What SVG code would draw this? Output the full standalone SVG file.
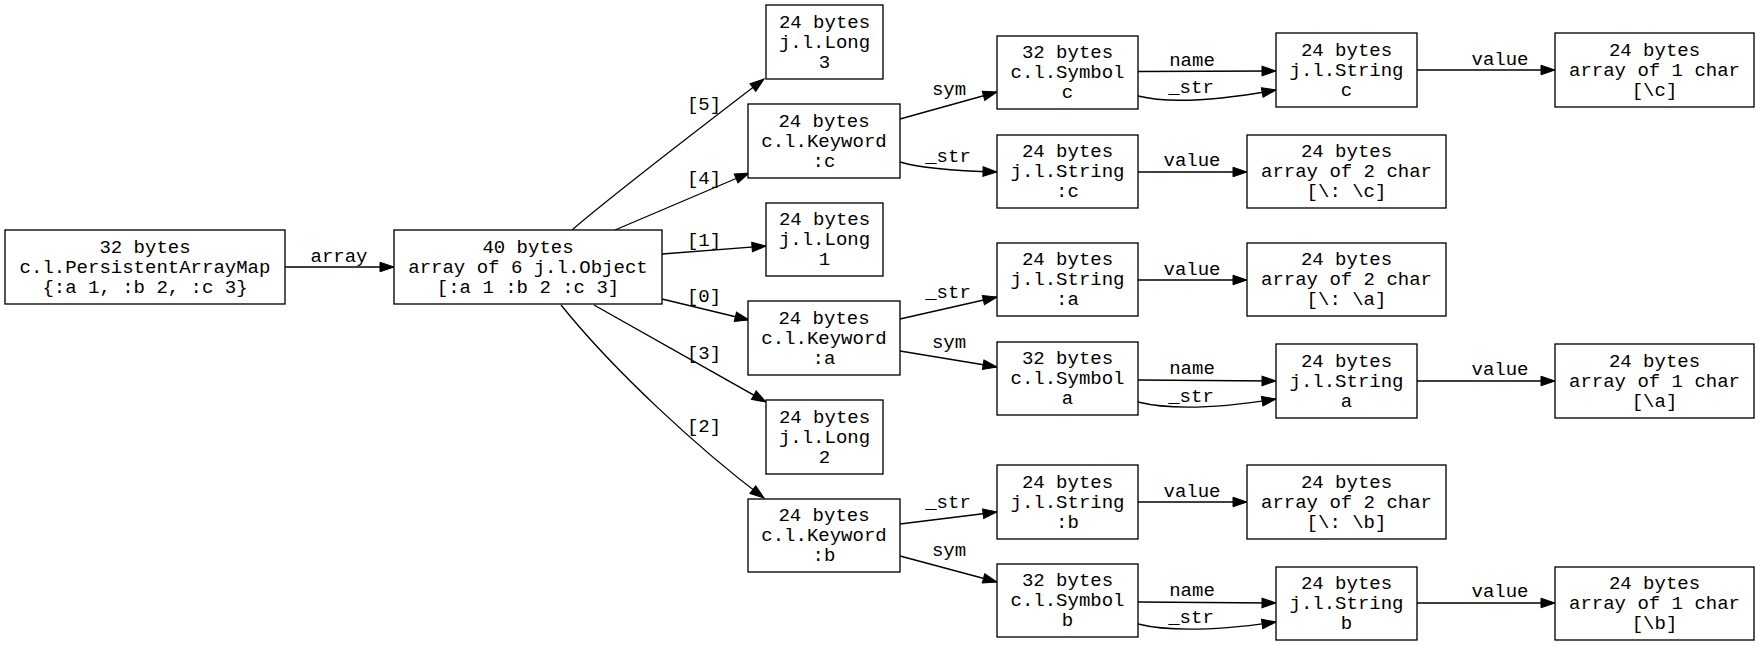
<svg xmlns="http://www.w3.org/2000/svg" width="1760" height="646" viewBox="0 0 1760 646">
<style>
text{font-family:"Liberation Mono","DejaVu Sans Mono",monospace;font-size:19px;text-anchor:middle;fill:#000}
.n rect{fill:#fff;stroke:#000;stroke-width:1.33}
#edges path{fill:none;stroke:#000;stroke-width:1.33;marker-end:url(#ah)}
</style>
<defs>
<marker id="ah" markerUnits="userSpaceOnUse" markerWidth="15" markerHeight="10" refX="14" refY="4.8" orient="auto" overflow="visible">
<path d="M0,0 L14,4.8 L0,9.6 z" fill="#000" stroke="#000" stroke-width="1"/>
</marker>
</defs>
<rect width="1760" height="646" fill="#fff"/>
<g id="edges">
<path d="M285,267 L394,267"/>
<path d="M572,230 C610,197 700,128 764,79"/>
<path d="M615,230 L749,173"/>
<path d="M662,254 L766,246"/>
<path d="M662,299 L749,320"/>
<path d="M594,305 L766,402"/>
<path d="M561,305 C615,372 700,450 764,498"/>
<path d="M900,119 L997,92"/>
<path d="M900,162 C920,168 960,171 997,172"/>
<path d="M900,319 L997,297"/>
<path d="M900,351 L997,367"/>
<path d="M900,524 L997,512"/>
<path d="M900,556 L997,582"/>
<path d="M1138,71.5 L1276,71"/>
<path d="M1138,96 C1170,104 1220,100 1276,90"/>
<path d="M1417,70 L1555,70"/>
<path d="M1138,172 L1247,172"/>
<path d="M1138,280 L1247,280"/>
<path d="M1138,380 L1276,381"/>
<path d="M1138,402 C1170,410 1220,408 1276,399"/>
<path d="M1417,381 L1555,381"/>
<path d="M1138,502 L1247,502"/>
<path d="M1138,602 L1276,603"/>
<path d="M1138,624 C1170,632 1220,630 1276,622"/>
<path d="M1417,603 L1555,603"/>
<text x="339" y="262">array</text>
<text x="704" y="110">[5]</text>
<text x="704" y="184">[4]</text>
<text x="704" y="246">[1]</text>
<text x="704" y="302">[0]</text>
<text x="704" y="359">[3]</text>
<text x="704" y="432">[2]</text>
<text x="949" y="95">sym</text>
<text x="948" y="162">_str</text>
<text x="948" y="298">_str</text>
<text x="949" y="348">sym</text>
<text x="948" y="508">_str</text>
<text x="949" y="556">sym</text>
<text x="1192" y="66">name</text>
<text x="1191" y="93">_str</text>
<text x="1500" y="65">value</text>
<text x="1192" y="166">value</text>
<text x="1192" y="275">value</text>
<text x="1192" y="374">name</text>
<text x="1191" y="402">_str</text>
<text x="1500" y="375">value</text>
<text x="1192" y="497">value</text>
<text x="1192" y="596">name</text>
<text x="1191" y="623">_str</text>
<text x="1500" y="597">value</text>
</g>
<g id="pam" class="n"><rect x="5" y="230" width="280" height="74"/><text x="145" y="252.5">32 bytes<tspan x="145" dy="20">c.l.PersistentArrayMap</tspan><tspan x="145" dy="20">{:a 1, :b 2, :c 3}</tspan></text></g>
<g id="obj" class="n"><rect x="394" y="230" width="268" height="74"/><text x="528" y="252.5">40 bytes<tspan x="528" dy="20">array of 6 j.l.Object</tspan><tspan x="528" dy="20">[:a 1 :b 2 :c 3]</tspan></text></g>
<g id="long3" class="n"><rect x="766" y="5" width="117" height="74"/><text x="824.5" y="27.5">24 bytes<tspan x="824.5" dy="20">j.l.Long</tspan><tspan x="824.5" dy="20">3</tspan></text></g>
<g id="kwc" class="n"><rect x="748" y="104" width="152" height="74"/><text x="824" y="126.5">24 bytes<tspan x="824" dy="20">c.l.Keyword</tspan><tspan x="824" dy="20">:c</tspan></text></g>
<g id="long1" class="n"><rect x="766" y="203" width="117" height="73"/><text x="824.5" y="225">24 bytes<tspan x="824.5" dy="20">j.l.Long</tspan><tspan x="824.5" dy="20">1</tspan></text></g>
<g id="kwa" class="n"><rect x="748" y="301" width="152" height="74"/><text x="824" y="323.5">24 bytes<tspan x="824" dy="20">c.l.Keyword</tspan><tspan x="824" dy="20">:a</tspan></text></g>
<g id="long2" class="n"><rect x="766" y="400" width="117" height="74"/><text x="824.5" y="422.5">24 bytes<tspan x="824.5" dy="20">j.l.Long</tspan><tspan x="824.5" dy="20">2</tspan></text></g>
<g id="kwb" class="n"><rect x="748" y="499" width="152" height="73"/><text x="824" y="521">24 bytes<tspan x="824" dy="20">c.l.Keyword</tspan><tspan x="824" dy="20">:b</tspan></text></g>
<g id="symc" class="n"><rect x="997" y="36" width="141" height="73"/><text x="1067.5" y="58">32 bytes<tspan x="1067.5" dy="20">c.l.Symbol</tspan><tspan x="1067.5" dy="20">c</tspan></text></g>
<g id="strcolc" class="n"><rect x="997" y="135" width="141" height="73"/><text x="1067.5" y="157">24 bytes<tspan x="1067.5" dy="20">j.l.String</tspan><tspan x="1067.5" dy="20">:c</tspan></text></g>
<g id="strcola" class="n"><rect x="997" y="243" width="141" height="73"/><text x="1067.5" y="265">24 bytes<tspan x="1067.5" dy="20">j.l.String</tspan><tspan x="1067.5" dy="20">:a</tspan></text></g>
<g id="syma" class="n"><rect x="997" y="342" width="141" height="73"/><text x="1067.5" y="364">32 bytes<tspan x="1067.5" dy="20">c.l.Symbol</tspan><tspan x="1067.5" dy="20">a</tspan></text></g>
<g id="strcolb" class="n"><rect x="997" y="465" width="141" height="74"/><text x="1067.5" y="487.5">24 bytes<tspan x="1067.5" dy="20">j.l.String</tspan><tspan x="1067.5" dy="20">:b</tspan></text></g>
<g id="symb" class="n"><rect x="997" y="564" width="141" height="73"/><text x="1067.5" y="586">32 bytes<tspan x="1067.5" dy="20">c.l.Symbol</tspan><tspan x="1067.5" dy="20">b</tspan></text></g>
<g id="strc" class="n"><rect x="1276" y="33" width="141" height="74"/><text x="1346.5" y="55.5">24 bytes<tspan x="1346.5" dy="20">j.l.String</tspan><tspan x="1346.5" dy="20">c</tspan></text></g>
<g id="char1c" class="n"><rect x="1555" y="33" width="199" height="74"/><text x="1654.5" y="55.5">24 bytes<tspan x="1654.5" dy="20">array of 1 char</tspan><tspan x="1654.5" dy="20">[\c]</tspan></text></g>
<g id="char2c" class="n"><rect x="1247" y="135" width="199" height="73"/><text x="1346.5" y="157">24 bytes<tspan x="1346.5" dy="20">array of 2 char</tspan><tspan x="1346.5" dy="20">[\: \c]</tspan></text></g>
<g id="char2a" class="n"><rect x="1247" y="243" width="199" height="73"/><text x="1346.5" y="265">24 bytes<tspan x="1346.5" dy="20">array of 2 char</tspan><tspan x="1346.5" dy="20">[\: \a]</tspan></text></g>
<g id="stra" class="n"><rect x="1276" y="344" width="141" height="74"/><text x="1346.5" y="366.5">24 bytes<tspan x="1346.5" dy="20">j.l.String</tspan><tspan x="1346.5" dy="20">a</tspan></text></g>
<g id="char1a" class="n"><rect x="1555" y="344" width="199" height="74"/><text x="1654.5" y="366.5">24 bytes<tspan x="1654.5" dy="20">array of 1 char</tspan><tspan x="1654.5" dy="20">[\a]</tspan></text></g>
<g id="char2b" class="n"><rect x="1247" y="465" width="199" height="74"/><text x="1346.5" y="487.5">24 bytes<tspan x="1346.5" dy="20">array of 2 char</tspan><tspan x="1346.5" dy="20">[\: \b]</tspan></text></g>
<g id="strb" class="n"><rect x="1276" y="567" width="141" height="73"/><text x="1346.5" y="589">24 bytes<tspan x="1346.5" dy="20">j.l.String</tspan><tspan x="1346.5" dy="20">b</tspan></text></g>
<g id="char1b" class="n"><rect x="1555" y="567" width="199" height="73"/><text x="1654.5" y="589">24 bytes<tspan x="1654.5" dy="20">array of 1 char</tspan><tspan x="1654.5" dy="20">[\b]</tspan></text></g>
</svg>
